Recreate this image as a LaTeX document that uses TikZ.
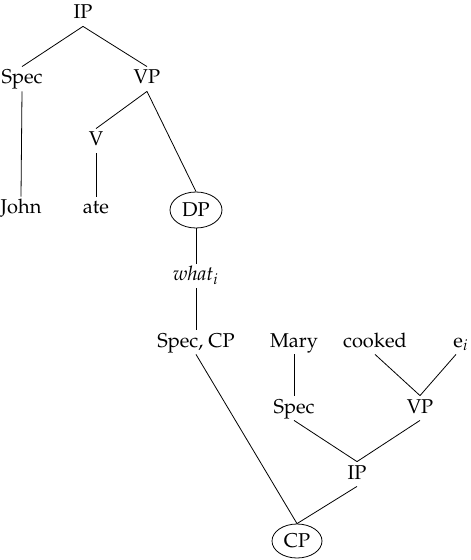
\documentclass[tikz,border=0pt]{standalone}
\usepackage[T1]{fontenc}
\usepackage{mathpazo}
\usepackage{tikz}
\usetikzlibrary{shapes}

\begin{document}
\begin{tikzpicture}[x=0.5pt,y=-0.5pt,
    lab/.style={inner sep=1.5pt,text height=7pt,text depth=2pt},
    ring/.style={ellipse,draw,inner sep=1pt,minimum width=50pt/2,minimum height=34pt/2}]
\useasboundingbox (0,0) rectangle (470,560);

\node[lab] (ip) at (83,14) {IP};
\node[lab] (spec) at (22,79) {Spec};
\node[lab] (vp) at (147,79) {VP};
\node[lab] (v) at (96,141) {V};
\node[lab] (john) at (21,209) {John};
\node[lab] (ate) at (96,209) {ate};
\node[ring,minimum width=52pt/2,minimum height=36pt/2] (dp) at (196,210) {DP};
\node[lab] (what) at (196,276) {\textit{what}$_i$};
\node[lab] (speccp) at (196,342) {Spec, CP};
\node[lab] (mary) at (294,342) {Mary};
\node[lab] (cooked) at (375,342) {cooked};
\node[lab] (ei) at (461,342) {e$_i$};
\node[lab] (spec2) at (294,408) {Spec};
\node[lab] (vp2) at (420,408) {VP};
\node[lab] (ip2) at (357,474) {IP};
\node[ring] (cp) at (297,541) {CP};

\foreach \up/\down/\shift in {ip/spec/0, ip/vp/0, spec/john/0, vp/v/0, vp/dp/0, v/ate/0,
    dp/what/0, what/speccp/0, speccp/cp/0, mary/spec2/0, cooked/vp2/0, ei/vp2/-2.5,
    spec2/ip2/0, vp2/ip2/0, ip2/cp/0} {
    \draw ([xshift=\shift pt]\up.south) -- (\down.north);
}
\end{tikzpicture}
\end{document}
